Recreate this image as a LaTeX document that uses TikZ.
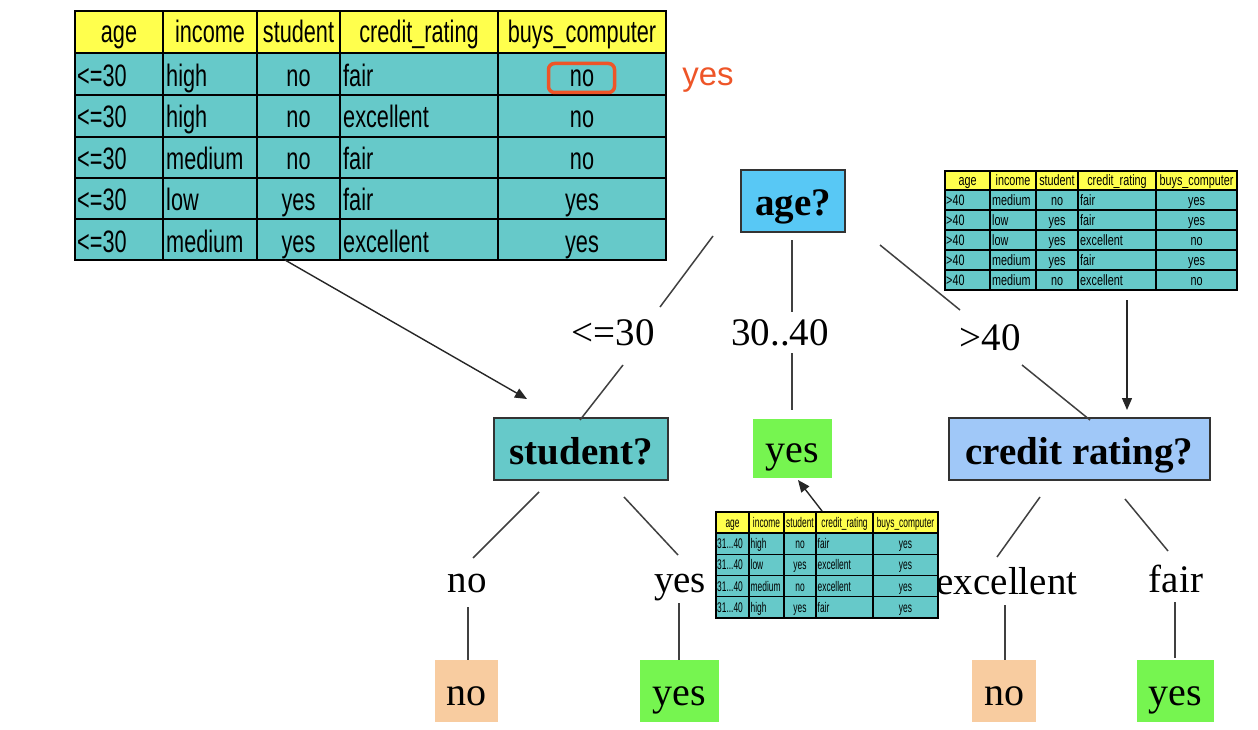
\documentclass[tikz,border=0pt]{standalone}
\usepackage{fontspec}
\setmainfont{Liberation Serif}
\newfontfamily\tabA[FakeStretch=0.7]{Liberation Sans}
\newfontfamily\tabB[FakeStretch=0.72]{Liberation Sans}
\newfontfamily\tabC[FakeStretch=0.6]{Liberation Sans}
\newfontfamily\sansf{Liberation Sans}
\usetikzlibrary{arrows.meta}
\definecolor{tealc}{RGB}{102,201,201}
\definecolor{yellowc}{RGB}{255,255,77}
\definecolor{ageblue}{RGB}{88,200,245}
\definecolor{crblue}{RGB}{160,200,248}
\definecolor{leafgreen}{RGB}{118,245,80}
\definecolor{leafpeach}{RGB}{248,204,160}
\definecolor{redc}{RGB}{238,85,40}
\newcommand{\midage}{31...40}
\tikzset{
  btab/.style={font=\tabA\fontsize{31}{32}\selectfont, inner sep=0pt},
  rtab/.style={font=\tabB\fontsize{15}{16}\selectfont, inner sep=0pt},
  mtab/.style={font=\tabC\fontsize{14}{15}\selectfont, inner sep=0pt},
  decision/.style={draw=black!80, line width=1.5pt, inner sep=0pt,
     text height=32pt, text depth=2pt,
     font=\fontsize{39}{40}\selectfont\bfseries},
  leafbox/.style={inner sep=0pt, text height=30pt, text depth=2pt,
     font=\fontsize{40}{41}\selectfont},
  elabel/.style={inner sep=0pt, anchor=base, font=\fontsize{39}{40}\selectfont},
  treeedge/.style={draw=black!75, line width=1.5pt},
  arr/.style={draw=black!85, line width=1.4pt, -{Triangle[length=12pt,width=10pt]}}
}
\begin{document}
\begin{tikzpicture}[x=1pt,y=-1pt]
\useasboundingbox (0,0) rectangle (1258,730);

% ---------------- big table ----------------
\fill[tealc] (75,53) rectangle (666,260);
\fill[yellowc] (75,11) rectangle (666,53);
\foreach \y in {53,95,137,178,219} \draw[line width=2.6pt] (75,\y) -- (666,\y);
\foreach \x in {163,257,340,498} \draw[line width=2pt] (\x,11) -- (\x,260);
\draw[line width=2.4pt] (75,11) rectangle (666,260);
\foreach \t/\x [count=\k] in {age/119,income/210,student/298.5,credit\_rating/419,buys\_computer/582}
  \node[btab, anchor=base] (bh\k) at (\x,43) {\t};
\foreach \a/\b/\c/\d/\e [count=\i] in {{<=30}/high/no/fair/no,{<=30}/high/no/excellent/no,{<=30}/medium/no/fair/no,{<=30}/low/yes/fair/yes,{<=30}/medium/yes/excellent/yes}
{
  \pgfmathsetmacro\yb{53+41.4*(\i-1)+33.5}
  \node[btab, anchor=base west] (b\i-a) at (77,\yb) {\a};
  \node[btab, anchor=base west] (b\i-b) at (166,\yb) {\b};
  \node[btab, anchor=base] (b\i-c) at (298.5,\yb) {\c};
  \node[btab, anchor=base west] (b\i-d) at (343,\yb) {\d};
  \node[btab, anchor=base] (b\i-e) at (582,\yb) {\e};
}
\node[draw=redc, line width=3.5pt, rounded corners=6pt, minimum width=66pt, minimum height=29pt] (redmark) at (581.5,78) {};
\node[text=redc, inner sep=0pt, anchor=base, font=\sansf\fontsize{33}{34}\selectfont] (redyes) at (708,86) {yes};

% ---------------- right table (>40) ----------------
\fill[tealc] (945,190) rectangle (1237,290);
\fill[yellowc] (945,171) rectangle (1237,190);
\foreach \y in {190,210,230,250,270} \draw[line width=1.4pt] (945,\y) -- (1237,\y);
\foreach \x in {990,1036,1078,1156} \draw[line width=1.1pt] (\x,171) -- (\x,290);
\draw[line width=1.5pt] (945,171) rectangle (1237,290);
\foreach \t/\x [count=\k] in {age/967.5,income/1013,student/1057,credit\_rating/1117,buys\_computer/1196.5}
  \node[rtab, anchor=base] (rh\k) at (\x,186) {\t};
\foreach \a/\b/\c/\d/\e [count=\i] in {{>40}/medium/no/fair/yes,{>40}/low/yes/fair/yes,{>40}/low/yes/excellent/no,{>40}/medium/yes/fair/yes,{>40}/medium/no/excellent/no}
{
  \pgfmathsetmacro\yb{190+20*(\i-1)+15.5}
  \node[rtab, anchor=base west] (r\i-a) at (946,\yb) {\a};
  \node[rtab, anchor=base west] (r\i-b) at (992,\yb) {\b};
  \node[rtab, anchor=base] (r\i-c) at (1057,\yb) {\c};
  \node[rtab, anchor=base west] (r\i-d) at (1080,\yb) {\d};
  \node[rtab, anchor=base] (r\i-e) at (1196.5,\yb) {\e};
}

% ---------------- middle table (31..40) ----------------
\fill[tealc] (716,533) rectangle (938,618);
\fill[yellowc] (716,512) rectangle (938,533);
\foreach \y in {533,554.25,575.5,596.75} \draw[line width=1.4pt] (716,\y) -- (938,\y);
\foreach \x in {749,784,816,873} \draw[line width=1.1pt] (\x,512) -- (\x,618);
\draw[line width=1.5pt] (716,512) rectangle (938,618);
\foreach \t/\x [count=\k] in {age/732.5,income/766.5,student/800,credit\_rating/844.5,buys\_computer/905.5}
  \node[mtab, anchor=base] (mh\k) at (\x,527.5) {\t};
\foreach \b/\c/\d/\e [count=\i] in {high/no/fair/yes,low/yes/excellent/yes,medium/no/excellent/yes,high/yes/fair/yes}
{
  \pgfmathsetmacro\yb{533+21.25*(\i-1)+15.5}
  \node[mtab, anchor=base west] (m\i-a) at (717,\yb) {\midage};
  \node[mtab, anchor=base west] (m\i-b) at (750.5,\yb) {\b};
  \node[mtab, anchor=base] (m\i-c) at (800,\yb) {\c};
  \node[mtab, anchor=base west] (m\i-d) at (817.5,\yb) {\d};
  \node[mtab, anchor=base] (m\i-e) at (905.5,\yb) {\e};
}

% ---------------- tree nodes ----------------
\node[decision, fill=ageblue, minimum width=104pt, minimum height=62pt] (age) at (793,201) {age?};
\node[decision, fill=tealc, minimum width=174pt, minimum height=62pt] (student) at (581,449) {student?};
\node[leafbox, fill=leafgreen, minimum width=79pt, minimum height=59pt] (midyes) at (792.5,448.5) {yes};
\node[decision, fill=crblue, minimum width=261pt, minimum height=62pt] (credit) at (1079.5,449) {credit rating?};

\node[leafbox, fill=leafpeach, minimum width=63pt, minimum height=62pt] (stno) at (466.5,691) {no};
\node[leafbox, fill=leafgreen, minimum width=79pt, minimum height=62pt] (styes) at (679.5,691) {yes};
\node[leafbox, fill=leafpeach, minimum width=64pt, minimum height=62pt] (crno) at (1004,691) {no};
\node[leafbox, fill=leafgreen, minimum width=77pt, minimum height=62pt] (cryes) at (1175.5,691) {yes};

% edge labels
\node[elabel] (lle30) at (613,345) {<=30};
\node[elabel] (l3040) at (780,345) {30..40};
\node[elabel] (lgt40) at (990,350) {>40};
\node[elabel] (lno) at (467,592) {no};
\node[elabel] (lyes) at (680,592) {yes};
\node[elabel] (lexc) at (1007,594) {excellent};
\node[elabel] (lfair) at (1176,592) {fair};

% edge end points
\coordinate (e1a) at (713,236); \coordinate (e1b) at (660,307);
\coordinate (e1c) at (623,365); \coordinate (e1d) at (580,420);
\coordinate (e2a) at (792,240); \coordinate (e2b) at (792,312);
\coordinate (e2c) at (792,353); \coordinate (e2d) at (792,410);
\coordinate (e3a) at (880,245); \coordinate (e3b) at (960,310);
\coordinate (e3c) at (1022,365); \coordinate (e3d) at (1090,420);
\coordinate (e4a) at (539,492); \coordinate (e4b) at (473,558);
\coordinate (e4c) at (468,607); \coordinate (e4d) at (468,660);
\coordinate (e5a) at (624,497); \coordinate (e5b) at (678,555);
\coordinate (e5c) at (679,603); \coordinate (e5d) at (679,660);
\coordinate (e6a) at (1040,497); \coordinate (e6b) at (997,557);
\coordinate (e6c) at (1005,605); \coordinate (e6d) at (1005,660);
\coordinate (e7a) at (1125,499); \coordinate (e7b) at (1168,551);
\coordinate (e7c) at (1175,602); \coordinate (e7d) at (1175,658);
\foreach \k in {1,...,7} {
  \draw[treeedge] (e\k a) -- (e\k b);
  \draw[treeedge] (e\k c) -- (e\k d);
}

% arrows from tables
\coordinate (btout) at (285,260); \coordinate (stin) at (527,399);
\draw[arr] (btout) -- (stin);
\coordinate (rtout) at (1127,300); \coordinate (crin) at (1127,410);
\draw[arr] (rtout) -- (crin);
\coordinate (mtout) at (822,511); \coordinate (myin) at (798,480);
\draw[arr] (mtout) -- (myin);
\end{tikzpicture}
\end{document}
